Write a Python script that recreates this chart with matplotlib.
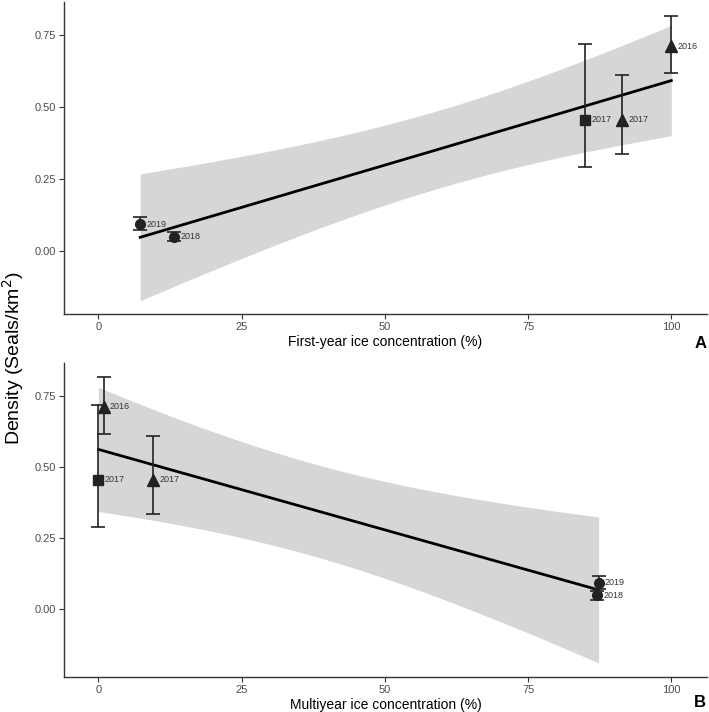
import numpy as np
import matplotlib
matplotlib.use("Agg")
import matplotlib.pyplot as plt

plt.rcParams['font.family'] = ['Liberation Sans', 'DejaVu Sans']

# ---- data ----
years = ["2019", "2018", "2017", "2017", "2016"]
shapes = ["o", "o", "s", "^", "^"]
density = [0.093, 0.049, 0.456, 0.456, 0.712]
density_low = [0.072, 0.034, 0.290, 0.335, 0.617]
density_high = [0.116, 0.066, 0.719, 0.611, 0.816]
fyi_conc = [7.3, 13.2, 85.0, 91.4, 100.0]
myi_conc = [87.3, 87.0, 0.0, 9.5, 0.9]

T_CRIT = 3.182446  # t(0.975, df=3) used by geom_smooth(method="lm")

fig = plt.figure(figsize=(7.09, 7.12), dpi=100)
axA = fig.add_axes([0.0903, 0.559, 0.9067, 0.438])
axB = fig.add_axes([0.0903, 0.0496, 0.9067, 0.4401])

dark = "#222222"


def panel(ax, x, xlabel, letter):
    x = np.asarray(x, float)
    y = np.asarray(density, float)
    n = len(x)
    slope, intercept = np.polyfit(x, y, 1)
    resid = y - (slope * x + intercept)
    s = np.sqrt(np.sum(resid ** 2) / (n - 2))
    xs = np.linspace(x.min(), x.max(), 100)
    sxx = np.sum((x - x.mean()) ** 2)
    se = s * np.sqrt(1.0 / n + (xs - x.mean()) ** 2 / sxx)
    fit = slope * xs + intercept
    ax.fill_between(xs, fit - T_CRIT * se, fit + T_CRIT * se,
                    color="#D6D6D6", lw=0, zorder=1)
    ax.plot(xs, fit, color="black", lw=2.0, zorder=2)
    for xi, yi, lo, hi, m, yr in zip(x, y, density_low, density_high, shapes, years):
        ax.errorbar([xi], [yi], yerr=[[yi - lo], [hi - yi]], fmt="none",
                    ecolor=dark, elinewidth=1.2, capsize=5, capthick=1.2, zorder=3)
        ms = 8 if m == "^" else 7
        if m == "s":
            ms = 6.5
        ax.plot([xi], [yi], marker=m, color=dark, ms=ms, ls="none", zorder=4)
        ax.annotate(yr, (xi, yi), xytext=(4.5, 0), textcoords="offset points",
                    ha="left", va="center", fontsize=6.5, color="#333333", zorder=5)
    ax.set_xlim(-6.0, 106.2)
    ax.set_xticks([0, 25, 50, 75, 100])
    ax.set_yticks([0.0, 0.25, 0.5, 0.75])
    ax.set_yticklabels(["0.00", "0.25", "0.50", "0.75"])
    for sp in ["top", "right"]:
        ax.spines[sp].set_visible(False)
    for sp in ["left", "bottom"]:
        ax.spines[sp].set_color("#333333")
        ax.spines[sp].set_linewidth(1.0)
    ax.tick_params(axis="both", length=3.5, width=0.8, color="#333333",
                   labelcolor="#4D4D4D", labelsize=8, pad=2.5)
    ax.set_xlabel(xlabel, fontsize=10, color="black", labelpad=2)
    ax.set_facecolor("white")


panel(axA, fyi_conc, "First-year ice concentration (%)", "A")
axA.set_ylim(-0.22, 0.865)
panel(axB, myi_conc, "Multiyear ice concentration (%)", "B")
axB.set_ylim(-0.237, 0.865)

fig.text(0.996, 0.518, "A", fontsize=12, fontweight="bold", ha="right", va="center")
fig.text(0.996, 0.013, "B", fontsize=12, fontweight="bold", ha="right", va="center")
fig.text(0.019, 0.497, "Density (Seals/km$^2$)", rotation=90, fontsize=14,
         ha="center", va="center")

fig.savefig("out.png", dpi=100, facecolor="white")
